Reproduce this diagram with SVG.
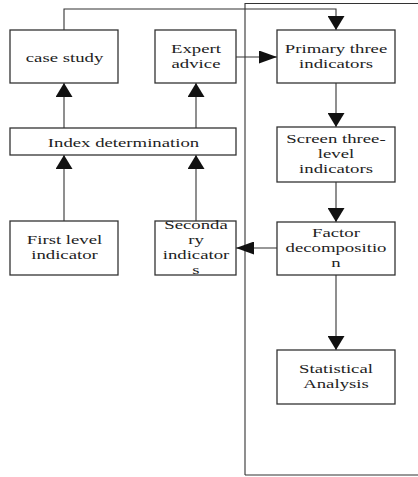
<svg xmlns="http://www.w3.org/2000/svg" width="418" height="477" viewBox="0 0 418 477">
<defs>
<style>
.box{fill:#fff;stroke:#333;stroke-width:1.3}
.ln{fill:none;stroke:#333;stroke-width:1.1}
.t{font-family:"Liberation Serif","Times New Roman",serif;font-size:13.2px;fill:#222;text-anchor:middle}
</style>
<marker id="ahV" markerUnits="userSpaceOnUse" markerWidth="16" markerHeight="17" refX="14" refY="8.5" orient="auto">
<path d="M0,0 L14,8.5 L0,17 Z" fill="#111"/>
</marker>
<marker id="ahH" markerUnits="userSpaceOnUse" markerWidth="19" markerHeight="13" refX="18" refY="6.5" orient="auto">
<path d="M0,0 L18,6.5 L0,13 Z" fill="#111"/>
</marker>
</defs>
<rect width="418" height="477" fill="#fff"/>
<g id="connectors">
<path class="ln" d="M245,475 L245,3.5 L418,3.5"/>
<path class="ln" d="M245,475 L418,475"/>
<path class="ln" d="M64,30 L64,9 L336,9 L336,30" marker-end="url(#ahV)"/>
<path class="ln" d="M64,128 L64,83" marker-end="url(#ahV)"/>
<path class="ln" d="M196,128 L196,83" marker-end="url(#ahV)"/>
<path class="ln" d="M64,221 L64,155" marker-end="url(#ahV)"/>
<path class="ln" d="M196,221 L196,155" marker-end="url(#ahV)"/>
<path class="ln" d="M236,57 L277,57" marker-end="url(#ahH)"/>
<path class="ln" d="M336,83 L336,127" marker-end="url(#ahV)"/>
<path class="ln" d="M336,182 L336,222" marker-end="url(#ahV)"/>
<path class="ln" d="M277,248 L236,248" marker-end="url(#ahH)"/>
<path class="ln" d="M336,275 L336,350" marker-end="url(#ahV)"/>
</g>
<g id="case-study">
<rect class="box" x="10" y="30" width="108" height="53"/>
<g transform="translate(64.5,0) scale(1.42,1)"><text class="t" x="0" y="62">case study</text></g>
</g>
<g id="expert-advice">
<rect class="box" x="155" y="30" width="81" height="53"/>
<g transform="translate(196,0) scale(1.42,1)">
<text class="t" x="0" y="53.5">Expert</text>
<text class="t" x="0" y="68.5">advice</text>
</g>
</g>
<g id="primary-three-indicators">
<rect class="box" x="277" y="30" width="118" height="53"/>
<g transform="translate(336,0) scale(1.42,1)">
<text class="t" x="0" y="53.5">Primary three</text>
<text class="t" x="0" y="68.5">indicators</text>
</g>
</g>
<g id="index-determination">
<rect class="box" x="10" y="128" width="226" height="27"/>
<g transform="translate(123.5,0) scale(1.42,1)"><text class="t" x="0" y="147">Index determination</text></g>
</g>
<g id="screen-three-level-indicators">
<rect class="box" x="277" y="127" width="118" height="55"/>
<g transform="translate(336,0) scale(1.42,1)">
<text class="t" x="0" y="143.5">Screen three-</text>
<text class="t" x="0" y="158.5">level</text>
<text class="t" x="0" y="173.5">indicators</text>
</g>
</g>
<g id="first-level-indicator">
<rect class="box" x="10" y="221" width="108" height="54"/>
<g transform="translate(64.5,0) scale(1.42,1)">
<text class="t" x="0" y="244.5">First level</text>
<text class="t" x="0" y="259.5">indicator</text>
</g>
</g>
<g id="secondary-indicators">
<rect class="box" x="155" y="221" width="81" height="54"/>
<g transform="translate(196,0) scale(1.42,1)">
<text class="t" x="0" y="229.5">Seconda</text>
<text class="t" x="0" y="244.5">ry</text>
<text class="t" x="0" y="259.5">indicator</text>
<text class="t" x="0" y="274.5">s</text>
</g>
</g>
<g id="factor-decomposition">
<rect class="box" x="277" y="222" width="118" height="53"/>
<g transform="translate(336,0) scale(1.42,1)">
<text class="t" x="0" y="237.5">Factor</text>
<text class="t" x="0" y="252.5">decompositio</text>
<text class="t" x="0" y="267.5">n</text>
</g>
</g>
<g id="statistical-analysis">
<rect class="box" x="277" y="350" width="118" height="54"/>
<g transform="translate(336,0) scale(1.42,1)">
<text class="t" x="0" y="373.5">Statistical</text>
<text class="t" x="0" y="388.5">Analysis</text>
</g>
</g>
</svg>
